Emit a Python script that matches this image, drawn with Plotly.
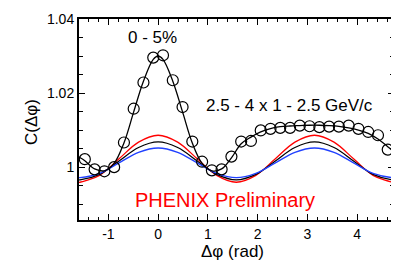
import plotly.graph_objects as go

# ---- data ----
dphi_pts = [-1.473, -1.276, -1.080, -0.884, -0.687, -0.491, -0.295, -0.098,
            0.098, 0.295, 0.491, 0.687, 0.884, 1.080, 1.276, 1.473,
            1.669, 1.865, 2.062, 2.258, 2.454, 2.651, 2.847, 3.043,
            3.240, 3.436, 3.632, 3.829, 4.025, 4.222, 4.418, 4.614]
c_pts = [1.00223, 0.99948, 0.99896, 1.00008, 1.00673, 1.01587, 1.02294, 1.02967,
         1.03030, 1.02356, 1.01631, 1.00699, 1.00155, 0.99922, 0.99948, 1.00293,
         1.00699, 1.00715, 1.01000, 1.01043, 1.01069, 1.01069, 1.01129, 1.01113,
         1.01088, 1.01103, 1.01103, 1.01129, 1.01043, 1.00958, 1.00870, 1.00482]

# fit curve through the points
dphi_fit = [-1.59, -1.473, -1.276, -1.080, -0.884, -0.687, -0.491, -0.295, -0.098, 0.0,
            0.098, 0.295, 0.491, 0.687, 0.884, 1.080, 1.276, 1.473,
            1.669, 1.865, 2.062, 2.258, 2.454, 2.651, 2.847, 3.043,
            3.240, 3.436, 3.632, 3.829, 4.025, 4.222, 4.418, 4.614, 4.74]
c_fit = [1.0028, 1.0018, 0.9996, 0.9991, 1.0011, 1.0066, 1.0150, 1.0233, 1.0292, 1.0301,
         1.0292, 1.0233, 1.0150, 1.0066, 1.0011, 0.9991, 0.9996, 1.0026,
         1.0064, 1.0082, 1.0096, 1.0105, 1.0110, 1.0112, 1.0113, 1.0114,
         1.0114, 1.0113, 1.0111, 1.0107, 1.0101, 1.0092, 1.0077, 1.0056, 1.0042]

# flow-modulated background curves (values read at steps of pi/8)
dphi_bg = [-1.59, -1.5708, -1.1781, -0.7854, -0.3927, 0.0, 0.3927, 0.7854, 1.1781,
           1.5708, 1.9635, 2.3562, 2.7489, 3.1416, 3.5343, 3.9270, 4.3197, 4.7124, 4.74]
c_red = [0.99600, 0.99600, 0.99786, 1.00235, 1.00684, 1.00870, 1.00684, 1.00235, 0.99786,
         0.99600, 0.99786, 1.00235, 1.00684, 1.00870, 1.00684, 1.00235, 0.99786, 0.99600, 0.99600]
c_black = [0.99663, 0.99663, 0.99813, 1.00176, 1.00539, 1.00689, 1.00539, 1.00176, 0.99813,
           0.99663, 0.99813, 1.00176, 1.00539, 1.00689, 1.00539, 1.00176, 0.99813, 0.99663, 0.99663]
c_blue = [0.99723, 0.99723, 0.99840, 1.00124, 1.00408, 1.00525, 1.00408, 1.00124, 0.99840,
          0.99723, 0.99840, 1.00124, 1.00408, 1.00525, 1.00408, 1.00124, 0.99840, 0.99723, 0.99723]

x_ticks = [-1, 0, 1, 2, 3, 4]
y_ticks = [1.00, 1.02, 1.04]
y_tick_labels = ["1", "1.02", "1.04"]

FONT = "Liberation Sans, Arial, Helvetica, sans-serif"

fig = go.Figure()
fig.add_trace(go.Scatter(x=dphi_bg, y=c_red, mode="lines", line=dict(color="#ff0000", width=1.3, shape="spline"), hoverinfo="skip"))
fig.add_trace(go.Scatter(x=dphi_bg, y=c_black, mode="lines", line=dict(color="#000000", width=1.3, shape="spline"), hoverinfo="skip"))
fig.add_trace(go.Scatter(x=dphi_bg, y=c_blue, mode="lines", line=dict(color="#2040ff", width=1.3, shape="spline"), hoverinfo="skip"))
fig.add_trace(go.Scatter(x=dphi_fit, y=c_fit, mode="lines", line=dict(color="#000000", width=1.3, shape="spline"), hoverinfo="skip"))
fig.add_trace(go.Scatter(x=dphi_pts, y=c_pts, mode="markers",
                         marker=dict(symbol="circle-open", size=11, color="#000000", line=dict(width=1.2, color="#000000"))))

axis_common = dict(showgrid=False, zeroline=False, showline=True, linecolor="black", linewidth=2,
                   ticks="inside", mirror="ticks", tickcolor="black", tickwidth=1.3, ticklen=6,
                   ticklabeloverflow="allow",
                   tickfont=dict(family=FONT, size=14, color="black"))

fig.update_xaxes(range=[-1.59, 4.74], tickvals=x_ticks, ticktext=[("-1" if v == -1 else str(v)) for v in x_ticks],
                 minor=dict(dtick=0.2, tick0=0, ticks="inside", ticklen=3, tickcolor="black", tickwidth=1.2),
                 **axis_common)
fig.update_yaxes(range=[0.9858, 1.0401], tickvals=y_ticks, ticktext=y_tick_labels,
                 minor=dict(dtick=0.005, tick0=1.0, ticks="inside", ticklen=4, tickcolor="black", tickwidth=1.2),
                 **axis_common)

fig.add_annotation(x=-0.11, y=1.035, text="0 - 5%", showarrow=False, xref="x", yref="y",
                   xanchor="center", yanchor="middle",
                   font=dict(family=FONT, size=17, color="black"))
fig.add_annotation(x=2.645, y=1.0166, text="2.5 - 4 x 1 - 2.5 GeV/c", showarrow=False, xref="x", yref="y",
                   xanchor="center", yanchor="middle",
                   font=dict(family=FONT, size=17, color="black"))
fig.add_annotation(x=1.353, y=0.9913, text="PHENIX Preliminary", showarrow=False, xref="x", yref="y",
                   xanchor="center", yanchor="middle",
                   font=dict(family=FONT, size=20, color="#ff0000"))
fig.add_annotation(x=-0.149, y=0.488, text="C(Δφ)", textangle=-90, showarrow=False, xref="paper", yref="paper",
                   xanchor="center", yanchor="middle",
                   font=dict(family=FONT, size=17, color="black"))
fig.add_annotation(x=0.486, y=-0.158, text="Δφ (rad)", showarrow=False, xref="paper", yref="paper",
                   xanchor="center", yanchor="middle",
                   font=dict(family=FONT, size=17, color="black"))

# page body has an 8px margin, so the figure is sized to end at the window edge
fig.update_layout(width=391, height=268, margin=dict(l=71, r=4, t=3, b=56),
                  plot_bgcolor="white", paper_bgcolor="white", showlegend=False)

fig.write_html("out.html")
